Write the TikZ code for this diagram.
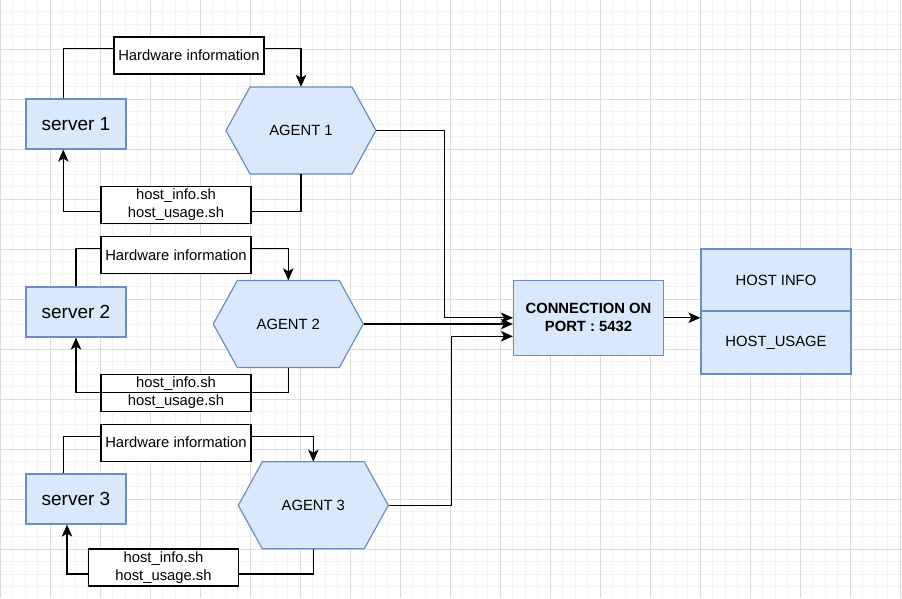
\documentclass[tikz,border=0pt]{standalone}
\usepackage{fontspec}
\setmainfont{Liberation Sans}
\usetikzlibrary{arrows.meta,calc}
\definecolor{bfill}{HTML}{DAE8FC}
\definecolor{bline}{HTML}{6C8EBF}
\definecolor{gmin}{HTML}{F3F3F3}
\definecolor{gmaj}{HTML}{DCDCDC}
\newcommand\agentnode[4]{%
  \filldraw[hexline] ({#2-75},#3) -- ({#2-51},{#3-43.5}) -- ({#2+51},{#3-43.5}) -- ({#2+75},#3) -- ({#2+51},{#3+43.5}) -- ({#2-51},{#3+43.5}) -- cycle;
  \node[agent] (#1) at (#2,#3) {#4};}
\begin{document}
\begin{tikzpicture}[x=1pt,y=-1pt,
  hexline/.style={draw=bline,fill=bfill,line width=1.2pt,line join=miter},
  bluebox/.style={draw=bline,fill=bfill,line width=1.2pt,minimum width=100pt,minimum height=50pt,inner sep=0pt,font=\fontsize{19}{22}\selectfont},
  tblbox/.style={draw=bline,fill=bfill,line width=1.2pt,minimum width=150pt,inner sep=0pt,font=\fontsize{14.8}{18}\selectfont},
  txtbox/.style={draw=black,fill=white,line width=1.1pt,minimum width=150pt,minimum height=37pt,inner sep=0pt,font=\fontsize{14.8}{18}\selectfont,align=center},
  agent/.style={minimum width=150pt,minimum height=87pt,inner sep=0pt,font=\fontsize{14.8}{18}\selectfont},
  conn/.style={draw=black,line width=1.1pt},
  arr/.style={conn,-{Stealth[length=12pt 0 0,width=10.5pt 0 0,inset=3pt 0 0]}}]
\useasboundingbox (0,0) rectangle (902,598);
\fill[white] (0,0) rectangle (902,598);
% grid
\foreach \i in {0,...,72} {\draw[gmin,line width=0.8pt] ({0.3+12.5*\i},0) -- ({0.3+12.5*\i},598);}
\foreach \j in {1,...,48} {\draw[gmin,line width=0.8pt] (0,{-0.7+12.5*\j}) -- (902,{-0.7+12.5*\j});}
\foreach \i in {0,...,18} {\draw[gmaj,line width=0.8pt] ({0.3+50*\i},0) -- ({0.3+50*\i},598);}
\foreach \j in {1,...,12} {\draw[gmaj,line width=0.8pt] (0,{-0.7+50*\j}) -- (902,{-0.7+50*\j});}
% servers
\node[bluebox] (s1) at (76,124) {server 1};
\node[bluebox] (s2) at (76,312) {server 2};
\node[bluebox] (s3) at (76,499) {server 3};
% agents
\agentnode{a1}{301}{130.5}{AGENT 1}
\agentnode{a2}{288.3}{324}{AGENT 2}
\agentnode{a3}{313.3}{505.3}{AGENT 3}
% loops (edges drawn under the label boxes)
\draw[arr] ([xshift=-12.7pt]s1.north) -- ++(0,-49.7) -| (a1.north);
\draw[arr] (a1.south) -- ++(0,37) -| ([xshift=-12.7pt]s1.south);
\draw[arr] (s2.north) -- ++(0,-38) -| (a2.north);
\draw[arr] ([xshift=-12.7pt]s3.north) -- ++(0,-37.3) -| (a3.north);
\draw[arr] (a3.south) -- ++(0,25) -| ([xshift=-9pt]s3.south);
\node[txtbox] (hw1) at (189,55.5) {Hardware information};
\node[txtbox] (hs1) at (176,205) {host\_info.sh\\host\_usage.sh};
\node[txtbox] (hw2) at (176,255.2) {Hardware information};
\node[txtbox] (hs2) at (176,392.8) {host\_info.sh\\host\_usage.sh};
\node[txtbox] (hw3) at (176,442.7) {Hardware information};
\node[txtbox] (hs3) at (163.5,567.5) {host\_info.sh\\host\_usage.sh};
\draw[arr] (a2.south) -- ++(0,25) -| (s2.south);
% connection and tables
\node[bluebox,minimum width=150pt,minimum height=75pt,font=\fontsize{14.8}{18}\selectfont\bfseries,align=center] (c) at (588.5,317.8) {CONNECTION ON\\PORT : 5432};
\node[tblbox,minimum height=62pt] (hi) at (776,280) {HOST INFO};
\node[tblbox,minimum height=63pt] (hu) at (776,342.5) {HOST\_USAGE};
\draw[arr] (a1.east) -- ++(68.3,0) |- (c.west);
\draw[arr] (a2.east) -- (a2.east -| c.west);
\draw[arr] (a3.east) -- ++(62.7,0) |- ([yshift=-18.5pt]c.west);
\draw[arr] (c.east) -- (c.east -| hi.west);
\end{tikzpicture}
\end{document}
